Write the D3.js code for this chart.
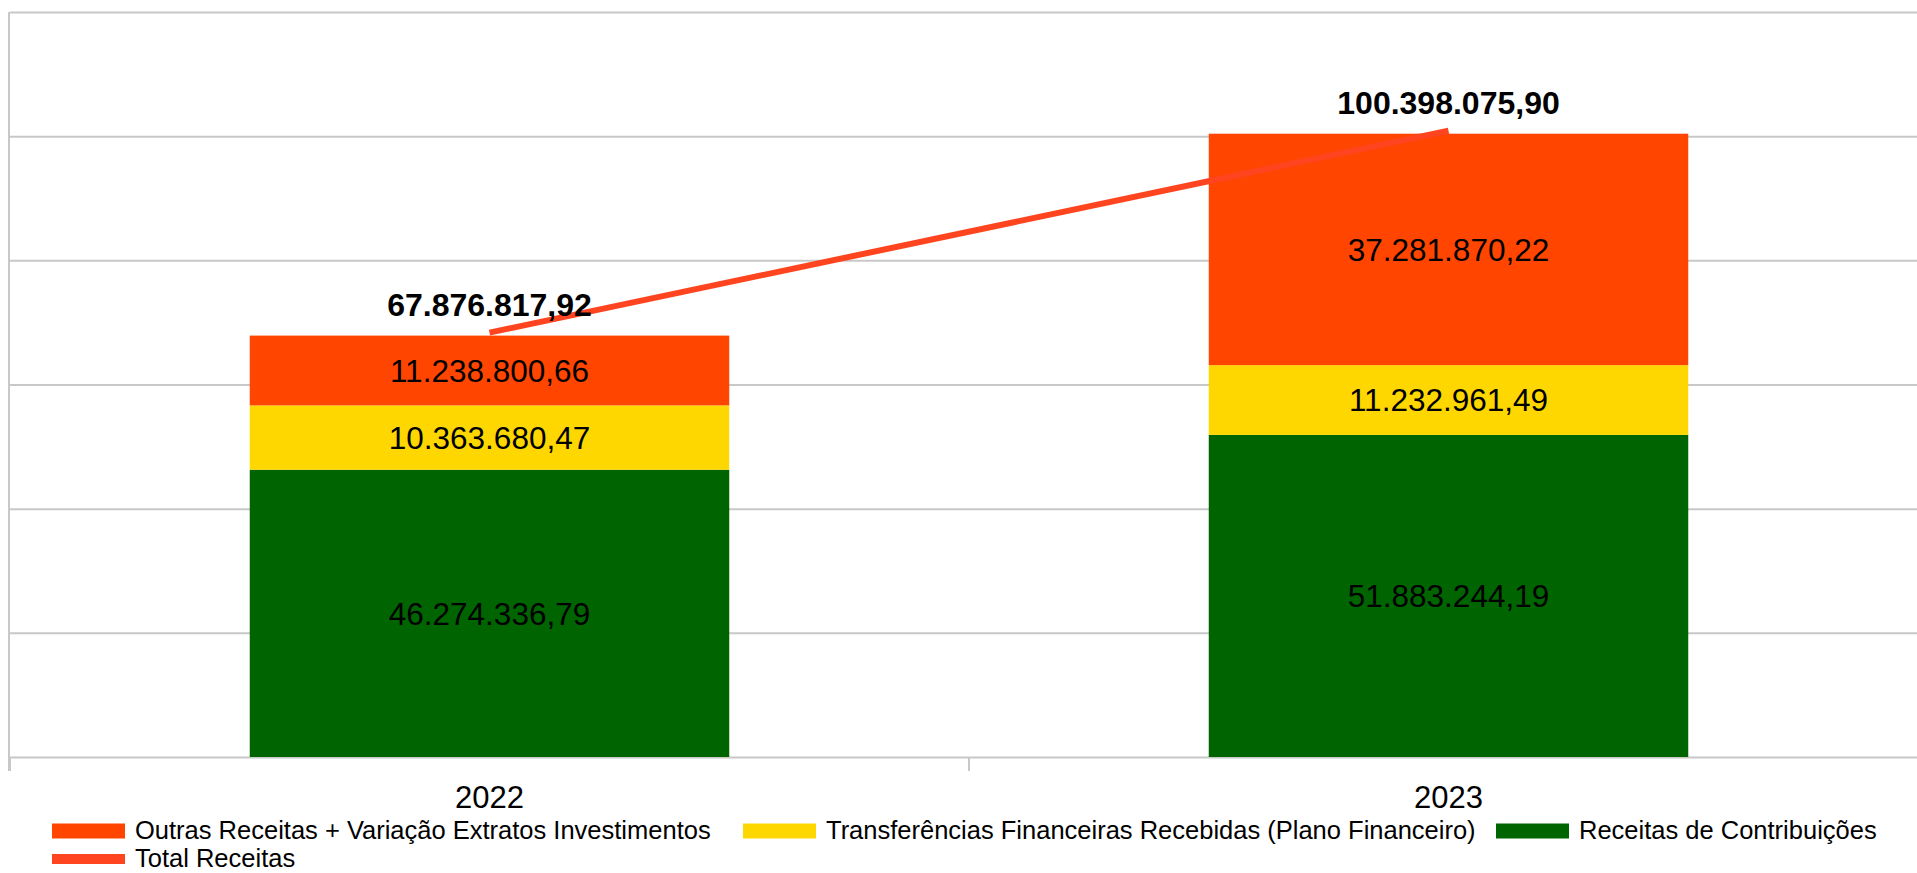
<!DOCTYPE html>
<html>
<head>
<meta charset="utf-8">
<script src="https://cdn.jsdelivr.net/npm/d3@7"></script>
<style>
  body { margin: 0; background: #fff; }
  svg { display: block; font-family: "Liberation Sans", Arial, sans-serif; }
</style>
</head>
<body>
<svg id="chart" width="1917" height="873"></svg>
<script>
// Chart data
var categories = ['2022', '2023'];
var contribuicoes = [46274336.79, 51883244.19];
var transferencias = [10363680.47, 11232961.49];
var outras = [11238800.66, 37281870.22];
var totais = [67876817.92, 100398075.90];
var yTicks = [0, 20000000, 40000000, 60000000, 80000000, 100000000, 120000000];

var seriesNames = [
  'Receitas de Contribuições',
  'Transferências Financeiras Recebidas (Plano Financeiro)',
  'Outras Receitas + Variação Extratos Investimentos'
];
var seriesValues = [contribuicoes, transferencias, outras];
var colors = ['#006400', '#ffd700', '#ff4500'];
var lineColor = '#ff4420';

(function draw() {
  var svg = d3.select('#chart');
  var margin = { top: 12, left: 10, right: -11, bottom: 116 };
  var width = +svg.attr('width') - margin.left - margin.right;
  var height = +svg.attr('height') - margin.top - margin.bottom;

  var locale = d3.formatLocale({ decimal: ',', thousands: '.', grouping: [3], currency: ['R$', ''] });
  var fmt = locale.format(',.2f');

  var x = d3.scaleBand()
    .domain(categories)
    .range([0, width])
    .paddingInner(0.5)
    .paddingOuter(0.25);

  var y = d3.scaleLinear()
    .domain([0, 120000000])
    .range([height, 0]);

  var plot = svg.append('g')
    .attr('transform', 'translate(' + margin.left + ',' + margin.top + ')');

  // Grid lines
  plot.append('g')
      .call(d3.axisLeft(y).tickValues(yTicks).tickSize(-width).tickFormat(''))
      .call(function (g) {
        g.select('.domain').remove();
        g.selectAll('.tick line').attr('stroke', '#c8c8c8').attr('stroke-width', 2);
      });

  // Left axis line
  plot.append('line')
      .attr('x1', -1).attr('x2', -1)
      .attr('y1', 0).attr('y2', height + 14)
      .attr('stroke', '#c8c8c8')
      .attr('stroke-width', 2);

  // Category ticks at band boundaries
  var step = x.step();
  var bounds = categories.map(function (c) { return x(c) - x.paddingOuter() * step; });
  bounds.push(width);
  plot.selectAll('.cat-tick')
      .data(bounds)
      .enter()
    .append('line')
      .attr('class', 'cat-tick')
      .attr('x1', function (d) { return d; })
      .attr('x2', function (d) { return d; })
      .attr('y1', height)
      .attr('y2', height + 14)
      .attr('stroke', '#c8c8c8')
      .attr('stroke-width', 2);

  // Category labels
  plot.selectAll('.cat-label')
      .data(categories)
      .enter()
    .append('text')
      .attr('x', function (d) { return x(d) + x.bandwidth() / 2; })
      .attr('y', height + 51)
      .attr('text-anchor', 'middle')
      .attr('font-size', 31)
      .attr('fill', '#000')
      .text(function (d) { return d; });

  // Stacked segments
  var rows = categories.map(function (c, i) {
    var r = { cat: c };
    seriesNames.forEach(function (s, k) { r[s] = seriesValues[k][i]; });
    return r;
  });
  var stacked = d3.stack().keys(seriesNames)(rows);

  var layers = plot.selectAll('.layer')
      .data(stacked)
      .enter()
    .append('g')
      .attr('class', 'layer')
      .attr('fill', function (d, i) { return colors[i]; });

  layers.selectAll('rect')
      .data(function (d) { return d; })
      .enter()
    .append('rect')
      .attr('x', function (d) { return x(d.data.cat); })
      .attr('width', x.bandwidth())
      .attr('y', function (d) { return y(d[1]); })
      .attr('height', function (d) { return y(d[0]) - y(d[1]); });

  layers.selectAll('text')
      .data(function (d) { return d; })
      .enter()
    .append('text')
      .attr('x', function (d) { return x(d.data.cat) + x.bandwidth() / 2; })
      .attr('y', function (d) { return (y(d[0]) + y(d[1])) / 2; })
      .attr('dy', '0.36em')
      .attr('text-anchor', 'middle')
      .attr('font-size', 31.5)
      .attr('fill', '#000')
      .text(function (d) { return fmt(d[1] - d[0]); });

  // Total line
  var line = d3.line()
    .x(function (d, i) { return x(categories[i]) + x.bandwidth() / 2; })
    .y(function (d) { return y(d) - 3; });

  plot.append('path')
      .datum(totais)
      .attr('d', line)
      .attr('fill', 'none')
      .attr('stroke', lineColor)
      .attr('stroke-width', 6);

  plot.selectAll('.total-label')
      .data(totais)
      .enter()
    .append('text')
      .attr('x', function (d, i) { return x(categories[i]) + x.bandwidth() / 2; })
      .attr('y', function (d) { return y(d) - 20; })
      .attr('text-anchor', 'middle')
      .attr('font-size', 32)
      .attr('font-weight', 'bold')
      .attr('fill', '#000')
      .text(function (d) { return fmt(d); });

  // Legend
  var legendItems = [
    { name: seriesNames[2], color: colors[2], x: 52, y: 839, h: 15 },
    { name: seriesNames[1], color: colors[1], x: 743, y: 839, h: 15 },
    { name: seriesNames[0], color: colors[0], x: 1496, y: 839, h: 15 },
    { name: 'Total Receitas', color: lineColor, x: 52, y: 867, h: 10 }
  ];

  var legend = svg.append('g');
  var item = legend.selectAll('g')
      .data(legendItems)
      .enter()
    .append('g')
      .attr('transform', function (d) { return 'translate(' + d.x + ',' + d.y + ')'; });

  item.append('rect')
      .attr('x', 0)
      .attr('y', function (d) { return -8 - d.h / 2; })
      .attr('width', 73)
      .attr('height', function (d) { return d.h; })
      .attr('fill', function (d) { return d.color; });

  item.append('text')
      .attr('x', 83)
      .attr('y', 0)
      .attr('font-size', 25.5)
      .attr('fill', '#000')
      .text(function (d) { return d.name; });
})();
</script>
</body>
</html>
